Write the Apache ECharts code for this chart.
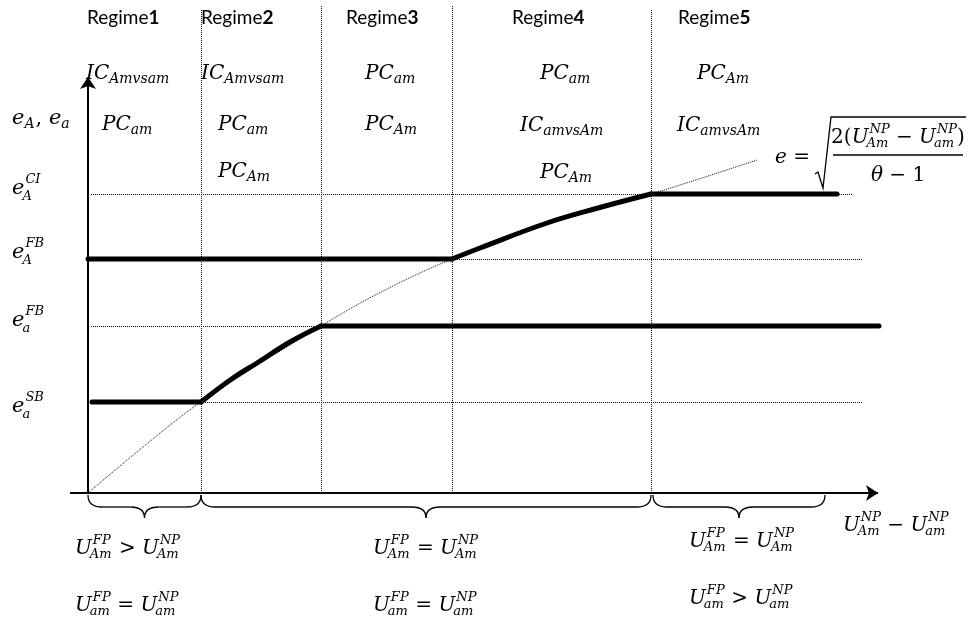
<!DOCTYPE html>
<html><head><meta charset="utf-8">
<script src="https://cdn.jsdelivr.net/npm/echarts@6/dist/echarts.min.js"></script>
<style>html,body{margin:0;padding:0;background:#fff}#c{width:969px;height:620px}</style>
</head><body><div id="c"></div>
<script>
// ---- data (x: U_Am^NP - U_am^NP, y: effort) ----
const regimeBounds = [1.13, 2.33, 3.64, 5.63];
const regimeTops = [4.83, 4.87, 4.87, 4.84];
const levelValues = [2.99, 2.34, 1.67, 0.91];           // eA_CI, eA_FB, ea_FB, ea_SB
const levelEnds = [7.65, 7.74, 7.74, 7.74];
const upperFlat1X = [0, 3.64], upperFlat1Y = [2.34, 2.34];
const upperRiseX = [3.64, 3.92, 4.59, 5.10, 5.63];
const upperRiseY = [2.34, 2.45, 2.70, 2.85, 2.99];
const upperFlat2X = [5.63, 7.49], upperFlat2Y = [2.99, 2.99];
const lowerFlat1X = [0.04, 1.13], lowerFlat1Y = [0.91, 0.91];
const lowerRiseX = [1.13, 1.45, 1.69, 2.02, 2.33];
const lowerRiseY = [0.91, 1.15, 1.30, 1.51, 1.67];
const lowerFlat2X = [2.33, 7.91], lowerFlat2Y = [1.67, 1.67];
const frontierX = [0, 0.55, 1.13, 2.33, 2.95, 3.64, 4.59, 5.63, 6.69];
const frontierY = [0, 0.46, 0.91, 1.67, 2.02, 2.34, 2.70, 2.99, 3.33];
const braceStart = [0, 1.13, 5.65];
const braceEnd = [1.13, 5.63, 7.37];
const regimeNames = ['1', '2', '3', '4', '5'];

const zip = (a, b) => a.map((v, i) => [v, b[i]]);

const chart = echarts.init(document.getElementById('c'));
const DOT = {type: 'dotted', color: '#111', width: 1};

const guideLines = [];
levelValues.forEach((v, i) => guideLines.push([{coord: [0.03, v]}, {coord: [levelEnds[i], v]}]));
regimeBounds.forEach((v, i) => guideLines.push([{coord: [v, 0]}, {coord: [v, regimeTops[i]]}]));

// ---- math text helper ----
const ctx = document.createElement('canvas').getContext('2d');
function tw(t, f) { ctx.font = f; return ctx.measureText(t).width; }
const SERIF = '"DejaVu Serif"';
function mathLayout(tokens, S, s, opt) {
  opt = opt || {};
  const supDy = opt.supDy != null ? opt.supDy : -0.36 * S;
  const subDy = opt.subDy != null ? opt.subDy : 0.27 * S;
  const els = []; let cx = 0;
  tokens.forEach(tk => {
    const it = tk.it !== false;
    const bf = (it ? 'italic ' : '') + S + 'px ' + SERIF;
    els.push({dx: cx, dy: 0, text: tk.b, font: bf});
    cx += tw(tk.b, bf);
    const sf = 'italic ' + s + 'px ' + SERIF;
    let w = 0;
    if (tk.sup) { els.push({dx: cx + 1, dy: supDy, text: tk.sup, font: sf}); w = Math.max(w, tw(tk.sup, sf)); }
    if (tk.sub) { els.push({dx: cx - (tk.sup ? 2 : 0), dy: subDy, text: tk.sub, font: sf}); w = Math.max(w, tw(tk.sub, sf) - (tk.sup ? 2 : 0)); }
    if (w) cx += w + 1;
  });
  return {els, width: cx};
}
function mathText(x, y, tokens, S, s, opt) {
  const L = mathLayout(tokens, S, s, opt);
  let x0 = x;
  if (opt && opt.center) x0 = x - L.width / 2;
  return L.els.map(e => ({type: 'text', x: x0 + e.dx, y: y + e.dy, silent: true,
    style: {text: e.text, font: e.font, fill: '#000', align: 'left', verticalAlign: 'middle'}}));
}
const U = (sup, sub) => ({b: 'U', sup, sub});
const op = t => ({b: ' ' + t + ' ', it: false});

const texts = [];
// Regime titles
[87, 201, 346, 512, 678].forEach((x, i) => texts.push({type: 'text', x, y: 18, silent: true,
  style: {text: '{n|Regime}{b|' + regimeNames[i] + '}', verticalAlign: 'middle', align: 'left',
    rich: {n: {fontFamily: 'Lato', fontSize: 19, fill: '#000', color: '#000'},
           b: {fontFamily: 'Lato', fontSize: 19, fontWeight: 'bold', fill: '#000', color: '#000'}}}}));
const S1 = 20, s1 = 14, s2 = 13;
const sub = (b, sb) => [{b, sub: sb}];
const cells = [
  [86, 74, 'IC', 'Amvsam'], [201, 74, 'IC', 'Amvsam'], [365, 74, 'PC', 'am'], [540, 74, 'PC', 'am'], [697, 74, 'PC', 'Am'],
  [102, 125, 'PC', 'am'], [218, 125, 'PC', 'am'], [365, 125, 'PC', 'Am'], [520, 126, 'IC', 'amvsAm'], [677, 126, 'IC', 'amvsAm'],
  [218, 172, 'PC', 'Am'], [540, 173, 'PC', 'Am']
];
cells.forEach(c => texts.push(...mathText(c[0], c[1], sub(c[2], c[3]), S1, s1, {subDy: 5})));
// y labels
const yo = {supDy: -9, subDy: 8};
texts.push(...mathText(12, 119, [{b: 'e', sub: 'A'}, {b: ', ', it: false}, {b: 'e', sub: 'a'}], 21, 14, {subDy: 5}));
texts.push(...mathText(12, 189, [{b: 'e', sup: 'CI', sub: 'A'}], 21, s2, yo));
texts.push(...mathText(12, 253, [{b: 'e', sup: 'FB', sub: 'A'}], 21, s2, yo));
texts.push(...mathText(12, 321, [{b: 'e', sup: 'FB', sub: 'a'}], 21, s2, yo));
texts.push(...mathText(12, 407, [{b: 'e', sup: 'SB', sub: 'a'}], 21, s2, yo));
// bottom conditions
const bo = {supDy: -8, subDy: 6};
texts.push(...mathText(75, 549, [U('FP', 'Am'), op('>'), U('NP', 'Am')], S1, s2, bo));
texts.push(...mathText(75, 606, [U('FP', 'am'), op('='), U('NP', 'am')], S1, s2, bo));
texts.push(...mathText(373, 549, [U('FP', 'Am'), op('='), U('NP', 'Am')], S1, s2, bo));
texts.push(...mathText(373, 606, [U('FP', 'am'), op('='), U('NP', 'am')], S1, s2, bo));
texts.push(...mathText(689, 542, [U('FP', 'Am'), op('='), U('NP', 'Am')], S1, s2, bo));
texts.push(...mathText(689, 599, [U('FP', 'am'), op('>'), U('NP', 'am')], S1, s2, bo));
texts.push(...mathText(843, 526, [U('NP', 'Am'), op('−'), U('NP', 'am')], S1, s2, bo));
// formula
texts.push(...mathText(775, 158, [{b: 'e'}, {b: ' =', it: false}], S1, s1));
texts.push(...mathText(898, 138, [{b: '2(', it: false}, U('NP', 'Am'), op('−'), U('NP', 'am'), {b: ')', it: false}], S1, s2, Object.assign({center: true}, bo)));
texts.push(...mathText(898, 176, [{b: 'θ'}, {b: ' − 1', it: false}], S1, s1, {center: true}));
texts.push({type: 'polyline', silent: true, shape: {points: [[815, 174], [818, 172], [823, 188], [831, 117], [966, 117]]},
  style: {stroke: '#000', lineWidth: 1.3, fill: null}});
texts.push({type: 'line', silent: true, shape: {x1: 833, y1: 155, x2: 963, y2: 155}, style: {stroke: '#000', lineWidth: 1.3}});

const thick = (xs, ys, smooth) => ({type: 'line', data: zip(xs, ys), smooth: smooth || false, showSymbol: false,
  silent: true, z: 5, lineStyle: {width: 5, color: '#000', cap: 'round'}});

chart.setOption({
  animation: false,
  grid: {left: 70, right: 81, top: 5, bottom: 127},
  xAxis: {type: 'value', min: -0.18, max: 8.0, show: false},
  yAxis: {type: 'value', min: 0, max: 4.88, show: false},
  series: [
    {type: 'line', data: [[0, 0]], showSymbol: false, silent: true, z: 1,
     markLine: {silent: true, symbol: 'none', label: {show: false}, emphasis: {disabled: true},
       lineStyle: DOT, data: guideLines}},
    {type: 'line', data: zip(frontierX, frontierY), smooth: 0.35, showSymbol: false, silent: true, z: 2,
     lineStyle: DOT},
    {type: 'line', data: [[0, 0]], showSymbol: false, silent: true, z: 4,
     markLine: {silent: true, symbol: ['none', 'arrow'], symbolSize: 12, label: {show: false}, emphasis: {disabled: true},
       lineStyle: {type: 'solid', color: '#000', width: 2},
       data: [[{coord: [-0.18, 0]}, {coord: [7.90, 0]}], [{coord: [0, 0]}, {coord: [0, 4.16]}]]}},
    thick(upperFlat1X, upperFlat1Y), thick(upperRiseX, upperRiseY, 0.4), thick(upperFlat2X, upperFlat2Y),
    thick(lowerFlat1X, lowerFlat1Y), thick(lowerRiseX, lowerRiseY, 0.4), thick(lowerFlat2X, lowerFlat2Y),
    {type: 'custom', data: zip(braceStart, braceEnd), silent: true, clip: false, z: 5,
     renderItem: function (params, api) {
       const p1 = api.coord([api.value(0), 0]), p2 = api.coord([api.value(1), 0]);
       const x1 = p1[0], x2 = p2[0], y0 = p1[1] + 2, y1 = p1[1] + 14, y2 = p1[1] + 25;
       const xm = (x1 + x2) / 2, r = Math.min(14, (x2 - x1) / 6);
       const st = {stroke: '#000', lineWidth: 1.3, fill: null};
       return {type: 'group', children: [
         {type: 'bezierCurve', shape: {x1: x1, y1: y0, cpx1: x1, cpy1: y1, x2: x1 + r, y2: y1}, style: st},
         {type: 'line', shape: {x1: x1 + r, y1: y1, x2: xm - r, y2: y1}, style: st},
         {type: 'bezierCurve', shape: {x1: xm - r, y1: y1, cpx1: xm, cpy1: y1, x2: xm, y2: y2}, style: st},
         {type: 'bezierCurve', shape: {x1: xm, y1: y2, cpx1: xm, cpy1: y1, x2: xm + r, y2: y1}, style: st},
         {type: 'line', shape: {x1: xm + r, y1: y1, x2: x2 - r, y2: y1}, style: st},
         {type: 'bezierCurve', shape: {x1: x2 - r, y1: y1, cpx1: x2, cpy1: y1, x2: x2, y2: y0}, style: st}
       ]};
     }}
  ],
  graphic: {elements: texts}
});
</script></body></html>
